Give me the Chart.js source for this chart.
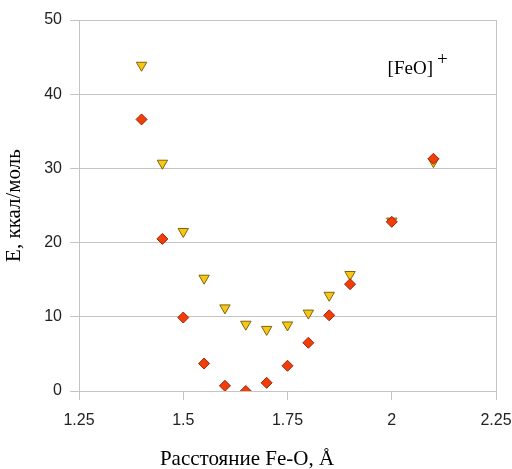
<!DOCTYPE html>
<html>
<head>
<meta charset="utf-8">
<script src="https://cdn.jsdelivr.net/npm/chart.js@4.4.1/dist/chart.umd.min.js"></script>
<style>
  html, body { margin: 0; padding: 0; background: #fff; }
  #wrap { width: 512px; height: 469px; }
</style>
</head>
<body>
<div id="wrap"><canvas id="chart"></canvas></div>
<script>
// Fe-O distance, angstrom
const distances = [1.4, 1.45, 1.5, 1.55, 1.6, 1.65, 1.7, 1.75, 1.8, 1.85, 1.9, 2.0, 2.1]
// red diamonds, kcal/mol
const energyDiamonds = [36.6, 20.5, 9.9, 3.7, 0.7, 0.0, 1.1, 3.4, 6.5, 10.2, 14.4, 22.8, 31.3]
// yellow triangles, kcal/mol
const energyTriangles = [43.9, 30.7, 21.5, 15.2, 11.2, 9.0, 8.3, 8.9, 10.5, 12.9, 15.7, 22.9, 30.9]

const xTicks = [1.25, 1.5, 1.75, 2, 2.25]
const yTicks = [0, 10, 20, 30, 40, 50]

const xTitle = 'Расстояние Fe-O, Å'
const yTitle = 'E, ккал/моль'
const label = '[FeO]'
const labelSup = '+'

const gridGray = '#c4c4c4'

const toPoints = (ys) => distances.map((x, i) => ({ x: x, y: ys[i] }))

const extraText = {
  id: 'extraText',
  afterDraw(chart) {
    const ctx = chart.ctx
    const xs = chart.scales.x
    const ys = chart.scales.y
    ctx.save()
    ctx.fillStyle = '#000'
    ctx.textBaseline = 'alphabetic'

    // axis title below, shifted left like in the source
    ctx.font = '21px "Liberation Serif"'
    ctx.textAlign = 'center'
    ctx.fillText(xTitle, 247, 465)

    // [FeO]+ annotation
    const lx = xs.getPixelForValue(1.99)
    const ly = ys.getPixelForValue(42.7)
    ctx.font = '19px "Liberation Serif"'
    ctx.textAlign = 'left'
    ctx.fillText(label, lx, ly)
    const w = ctx.measureText(label).width
    ctx.fillText(labelSup, lx + w + 4, ly - 9)
    ctx.restore()
  },
}

const ctx = document.getElementById('chart').getContext('2d')
new Chart(ctx, {
  type: 'scatter',
  data: {
    datasets: [
      {
        data: toPoints(energyDiamonds),
        pointStyle: 'rectRot',
        pointRadius: 5.5,
        pointHoverRadius: 5.5,
        backgroundColor: '#f23c0a',
        borderColor: '#9a2a08',
        borderWidth: 1,
      },
      {
        data: toPoints(energyTriangles),
        pointStyle: 'triangle',
        rotation: 180,
        pointRadius: 6,
        pointHoverRadius: 6,
        backgroundColor: '#f7c712',
        borderColor: '#7d6410',
        borderWidth: 1,
      },
    ],
  },
  options: {
    responsive: true,
    maintainAspectRatio: false,
    animation: false,
    layout: {
      padding: { top: 20, right: 0, left: 0, bottom: 0 },
    },
    plugins: {
      legend: { display: false },
      tooltip: { enabled: false },
    },
    scales: {
      x: {
        type: 'linear',
        min: xTicks[0],
        max: xTicks[xTicks.length - 1],
        afterBuildTicks: (scale) => {
          scale.ticks = xTicks.map((v) => ({ value: v }))
        },
        afterFit: (scale) => {
          scale.height = 78
          scale.paddingRight = 16
        },
        ticks: {
          color: '#222',
          font: { family: '"Liberation Sans"', size: 16 },
          padding: 11,
          maxRotation: 0,
          callback: (v) => String(v),
        },
        grid: {
          // only the outer frame lines inside the plot, tick marks for every value
          color: (c) => (c.index === 0 || c.index === xTicks.length - 1 ? gridGray : 'transparent'),
          tickColor: gridGray,
          tickLength: 9,
          lineWidth: 1,
        },
        border: { display: false },
      },
      y: {
        min: yTicks[0],
        max: yTicks[yTicks.length - 1],
        afterBuildTicks: (scale) => {
          scale.ticks = yTicks.map((v) => ({ value: v }))
        },
        afterFit: (scale) => {
          scale.width = 79
        },
        ticks: {
          color: '#222',
          font: { family: '"Liberation Sans"', size: 16 },
          padding: 8,
          callback: (v) => String(v),
        },
        grid: {
          color: gridGray,
          tickColor: gridGray,
          tickLength: 9,
          lineWidth: 1,
        },
        border: { display: true, color: gridGray },
        title: {
          display: true,
          text: yTitle,
          color: '#000',
          font: { family: '"Liberation Serif"', size: 21, weight: 'normal' },
          padding: { top: 2, bottom: 0 },
        },
      },
    },
  },
  plugins: [extraText],
})
</script>
</body>
</html>
